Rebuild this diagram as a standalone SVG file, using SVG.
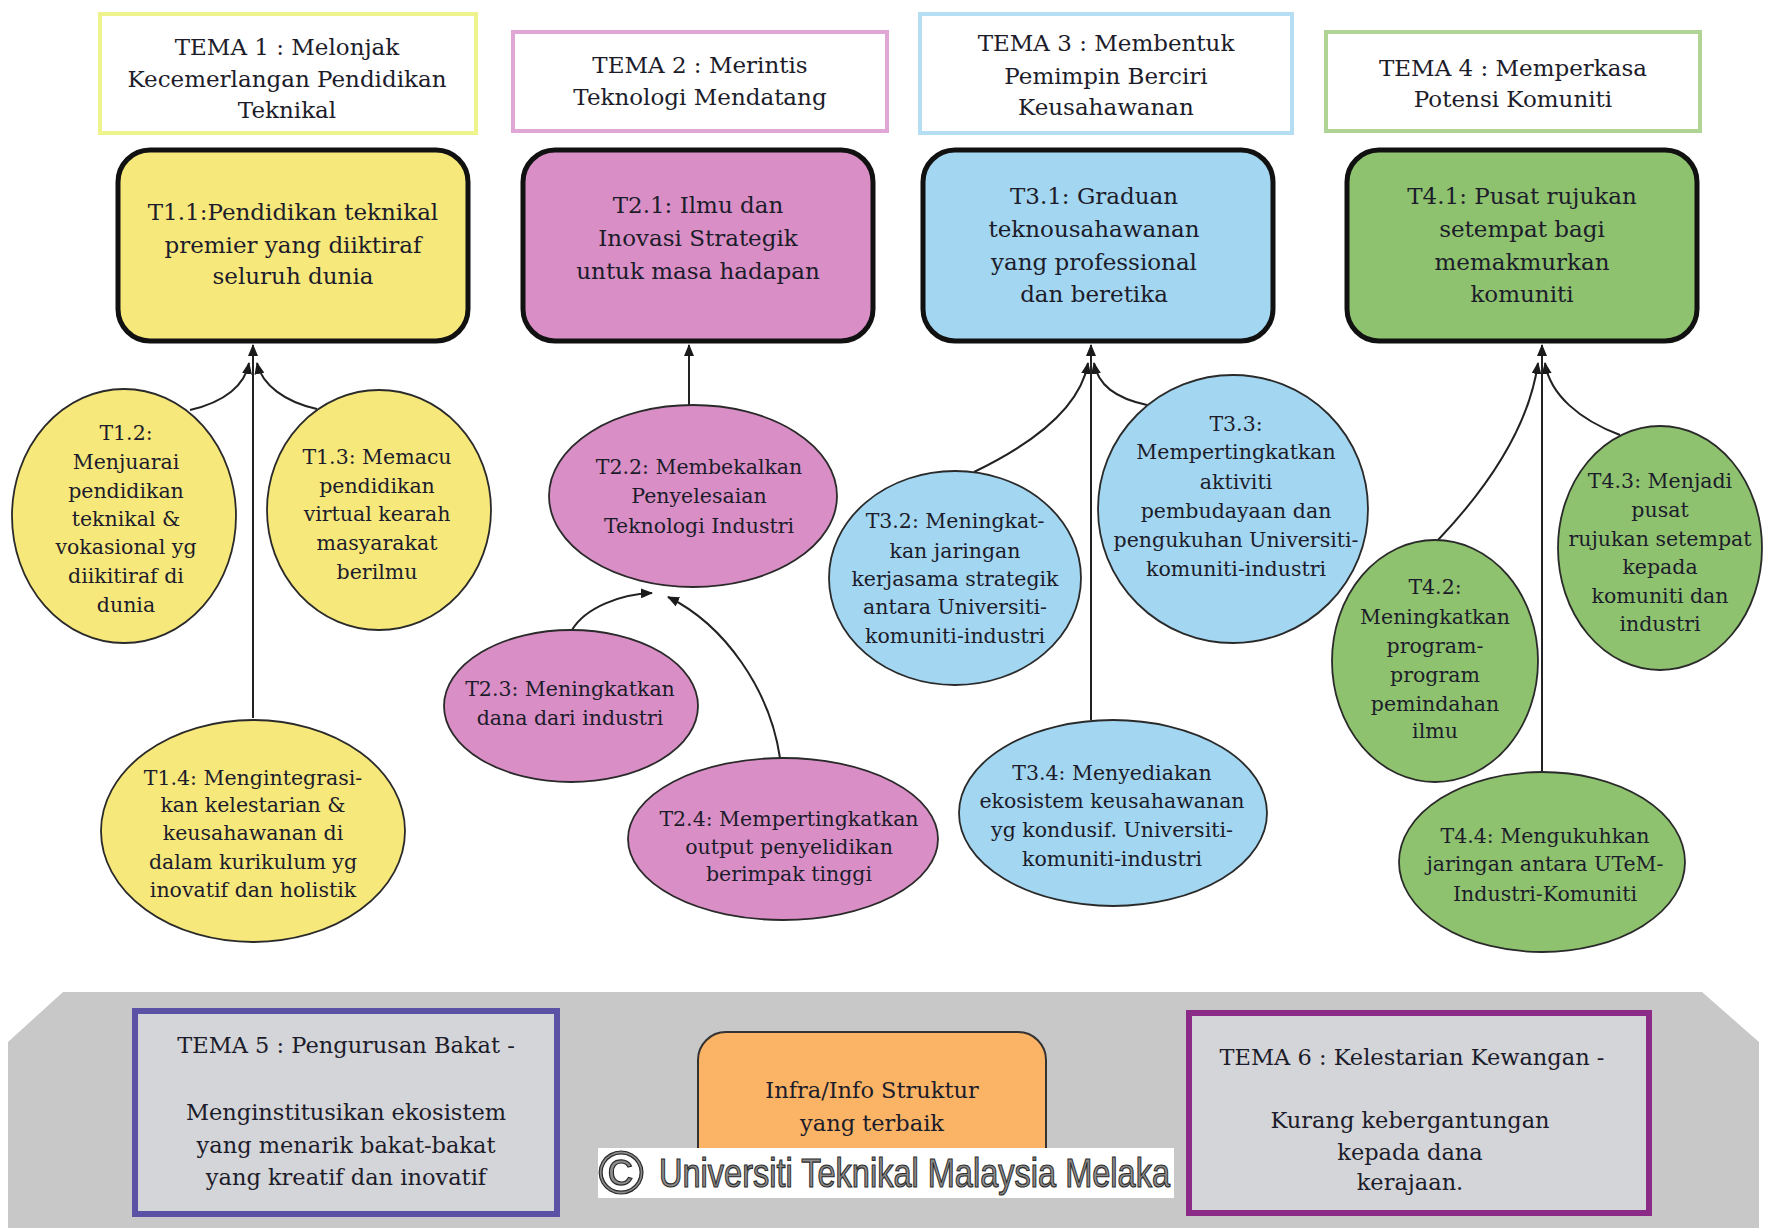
<svg xmlns="http://www.w3.org/2000/svg" width="1769" height="1228" viewBox="0 0 1769 1228">
<defs>
<marker id="arr" markerUnits="userSpaceOnUse" markerWidth="12" markerHeight="10" refX="11" refY="5" orient="auto">
<path d="M0,0 L12,5 L0,10 Z" fill="#1a1a1a"/>
</marker>
</defs>
<style>
text{font-family:"DejaVu Serif","Liberation Serif",serif;fill:#1c1c2a;text-anchor:middle}
.tt{font-size:23px}
.bx{font-size:23px}
.el{font-size:20.5px}
.bt{font-size:22.5px}
.title{fill:#ffffff;stroke-width:4}
.goal{stroke:#111111;stroke-width:5}
.ell{stroke:#2a2a2a;stroke-width:1.8}
.y{fill:#f7e87c}.p{fill:#d98fc6}.b{fill:#a3d6f1}.g{fill:#8ec26f}
.con path{fill:none;stroke:#222222;stroke-width:2;marker-end:url(#arr)}
</style>
<rect width="1769" height="1228" fill="#ffffff"/>

<!-- Theme titles -->
<g id="tema1"><rect class="title" x="100" y="14" width="376" height="119" stroke="#eef38c"/>
<text class="tt" x="287" y="55">TEMA 1 : Melonjak</text><text class="tt" x="287" y="87">Kecemerlangan Pendidikan</text><text class="tt" x="287" y="118">Teknikal</text></g>
<g id="tema2"><rect class="title" x="513" y="32" width="374" height="99" stroke="#e0a6d6"/>
<text class="tt" x="700" y="73">TEMA 2 : Merintis</text><text class="tt" x="700" y="105">Teknologi Mendatang</text></g>
<g id="tema3"><rect class="title" x="920" y="14" width="372" height="119" stroke="#b5def2"/>
<text class="tt" x="1106" y="51">TEMA 3 : Membentuk</text><text class="tt" x="1106" y="84">Pemimpin Berciri</text><text class="tt" x="1106" y="115">Keusahawanan</text></g>
<g id="tema4"><rect class="title" x="1326" y="32" width="374" height="99" stroke="#b0d494"/>
<text class="tt" x="1513" y="76">TEMA 4 : Memperkasa</text><text class="tt" x="1513" y="107">Potensi Komuniti</text></g>

<!-- Goal boxes -->
<g id="t11"><rect class="goal y" x="118" y="150" width="350" height="191" rx="32"/>
<text class="bx" x="293" y="220">T1.1:Pendidikan teknikal</text><text class="bx" x="293" y="253">premier yang diiktiraf</text><text class="bx" x="293" y="284">seluruh dunia</text></g>
<g id="t21"><rect class="goal p" x="523" y="150" width="350" height="191" rx="32"/>
<text class="bx" x="698" y="213">T2.1: Ilmu dan</text><text class="bx" x="698" y="246">Inovasi Strategik</text><text class="bx" x="698" y="279">untuk masa hadapan</text></g>
<g id="t31"><rect class="goal b" x="923" y="150" width="350" height="191" rx="32"/>
<text class="bx" x="1094" y="204">T3.1: Graduan</text><text class="bx" x="1094" y="237">teknousahawanan</text><text class="bx" x="1094" y="270">yang professional</text><text class="bx" x="1094" y="302">dan beretika</text></g>
<g id="t41"><rect class="goal g" x="1347" y="150" width="350" height="191" rx="32"/>
<text class="bx" x="1522" y="204">T4.1: Pusat rujukan</text><text class="bx" x="1522" y="237">setempat bagi</text><text class="bx" x="1522" y="270">memakmurkan</text><text class="bx" x="1522" y="302">komuniti</text></g>

<!-- Connectors -->
<g id="connectors" class="con">
<path d="M190,410 C225,402 245,385 249,363"/>
<path d="M317,409 C285,402 262,385 257,363"/>
<path d="M253,718 L253,345"/>
<path d="M689,405 L689,345"/>
<path d="M572,630 C585,608 620,594 652,593"/>
<path d="M780,758 C770,690 725,625 668,597"/>
<path d="M974,472 C1030,445 1080,410 1088,363"/>
<path d="M1147,405 C1115,398 1098,385 1094,363"/>
<path d="M1091,720 L1091,345"/>
<path d="M1438,540 C1495,480 1530,420 1538,363"/>
<path d="M1620,435 C1580,420 1550,395 1545,363"/>
<path d="M1542,772 L1542,345"/>
</g>

<!-- Theme 1 sub-goals -->
<g id="t12"><ellipse class="ell y" cx="124" cy="516" rx="112" ry="127"/>
<text class="el" x="126" y="440">T1.2:</text><text class="el" x="126" y="469">Menjuarai</text><text class="el" x="126" y="498">pendidikan</text><text class="el" x="126" y="526">teknikal &amp;</text><text class="el" x="126" y="554">vokasional yg</text><text class="el" x="126" y="583">diikitiraf di</text><text class="el" x="126" y="612">dunia</text></g>
<g id="t13"><ellipse class="ell y" cx="379" cy="510" rx="112" ry="120"/>
<text class="el" x="377" y="464">T1.3: Memacu</text><text class="el" x="377" y="493">pendidikan</text><text class="el" x="377" y="521">virtual kearah</text><text class="el" x="377" y="550">masyarakat</text><text class="el" x="377" y="579">berilmu</text></g>
<g id="t14"><ellipse class="ell y" cx="253" cy="831" rx="152" ry="111"/>
<text class="el" x="253" y="785">T1.4: Mengintegrasi-</text><text class="el" x="253" y="812">kan kelestarian &amp;</text><text class="el" x="253" y="840">keusahawanan di</text><text class="el" x="253" y="869">dalam kurikulum yg</text><text class="el" x="253" y="897">inovatif dan holistik</text></g>

<!-- Theme 2 sub-goals -->
<g id="t22"><ellipse class="ell p" cx="693" cy="496" rx="144" ry="91"/>
<text class="el" x="699" y="474">T2.2: Membekalkan</text><text class="el" x="699" y="503">Penyelesaian</text><text class="el" x="699" y="533">Teknologi Industri</text></g>
<g id="t23"><ellipse class="ell p" cx="571" cy="706" rx="127" ry="76"/>
<text class="el" x="570" y="696">T2.3: Meningkatkan</text><text class="el" x="570" y="725">dana dari industri</text></g>
<g id="t24"><ellipse class="ell p" cx="783" cy="839" rx="155" ry="81"/>
<text class="el" x="789" y="826">T2.4: Mempertingkatkan</text><text class="el" x="789" y="854">output penyelidikan</text><text class="el" x="789" y="881">berimpak tinggi</text></g>

<!-- Theme 3 sub-goals -->
<g id="t32"><ellipse class="ell b" cx="955" cy="578" rx="126" ry="107"/>
<text class="el" x="955" y="528">T3.2: Meningkat-</text><text class="el" x="955" y="558">kan jaringan</text><text class="el" x="955" y="586">kerjasama strategik</text><text class="el" x="955" y="614">antara Universiti-</text><text class="el" x="955" y="643">komuniti-industri</text></g>
<g id="t33"><ellipse class="ell b" cx="1233" cy="509" rx="135" ry="134"/>
<text class="el" x="1236" y="431">T3.3:</text><text class="el" x="1236" y="459">Mempertingkatkan</text><text class="el" x="1236" y="489">aktiviti</text><text class="el" x="1236" y="518">pembudayaan dan</text><text class="el" x="1236" y="547">pengukuhan Universiti-</text><text class="el" x="1236" y="576">komuniti-industri</text></g>
<g id="t34"><ellipse class="ell b" cx="1113" cy="813" rx="154" ry="93"/>
<text class="el" x="1112" y="780">T3.4: Menyediakan</text><text class="el" x="1112" y="808">ekosistem keusahawanan</text><text class="el" x="1112" y="837">yg kondusif. Universiti-</text><text class="el" x="1112" y="866">komuniti-industri</text></g>

<!-- Theme 4 sub-goals -->
<g id="t42"><ellipse class="ell g" cx="1435" cy="661" rx="103" ry="121"/>
<text class="el" x="1435" y="594">T4.2:</text><text class="el" x="1435" y="624">Meningkatkan</text><text class="el" x="1435" y="653">program-</text><text class="el" x="1435" y="682">program</text><text class="el" x="1435" y="711">pemindahan</text><text class="el" x="1435" y="738">ilmu</text></g>
<g id="t43"><ellipse class="ell g" cx="1660" cy="548" rx="102" ry="122"/>
<text class="el" x="1660" y="488">T4.3: Menjadi</text><text class="el" x="1660" y="517">pusat</text><text class="el" x="1660" y="546">rujukan setempat</text><text class="el" x="1660" y="574">kepada</text><text class="el" x="1660" y="603">komuniti dan</text><text class="el" x="1660" y="631">industri</text></g>
<g id="t44"><ellipse class="ell g" cx="1542" cy="862" rx="143" ry="90"/>
<text class="el" x="1545" y="843">T4.4: Mengukuhkan</text><text class="el" x="1545" y="871">jaringan antara UTeM-</text><text class="el" x="1545" y="901">Industri-Komuniti</text></g>

<!-- Bottom panel -->
<polygon id="panel" points="63,992 1702,992 1759,1042 1759,1228 8,1228 8,1042" fill="#c8c8c8"/>
<g id="tema5"><rect x="135" y="1011" width="422" height="203" fill="#d4d5d9" stroke="#5b52a6" stroke-width="6"/>
<text class="bt" x="346" y="1053">TEMA 5 : Pengurusan Bakat -</text><text class="bt" x="346" y="1120">Menginstitusikan ekosistem</text><text class="bt" x="346" y="1153">yang menarik bakat-bakat</text><text class="bt" x="346" y="1185">yang kreatif dan inovatif</text></g>
<g id="infra"><rect x="698" y="1032" width="348" height="160" rx="28" fill="#fbb466" stroke="#333333" stroke-width="2"/>
<text class="bt" x="872" y="1098">Infra/Info Struktur</text><text class="bt" x="872" y="1131">yang terbaik</text></g>
<g id="tema6"><rect x="1189" y="1013" width="460" height="200" fill="#d4d5d9" stroke="#8c2a88" stroke-width="6"/>
<text class="bt" x="1412" y="1065">TEMA 6 : Kelestarian Kewangan -</text><text class="bt" x="1410" y="1128">Kurang kebergantungan</text><text class="bt" x="1410" y="1160">kepada dana</text><text class="bt" x="1410" y="1190">kerajaan.</text></g>
<g id="copyright"><rect x="598" y="1148" width="576" height="50" fill="#ffffff"/>
<text x="621" y="1194" style="font-family:'Liberation Sans',Arial,sans-serif;font-size:62px;fill:#8c8c8c;stroke:#2a2a2a;stroke-width:1.2">©</text>
<text x="659" y="1187" textLength="511" lengthAdjust="spacingAndGlyphs" style="font-family:'Liberation Sans',Arial,sans-serif;font-size:41px;fill:#8c8c8c;stroke:#2a2a2a;stroke-width:1.2;text-anchor:start">Universiti Teknikal Malaysia Melaka</text></g>
</svg>
